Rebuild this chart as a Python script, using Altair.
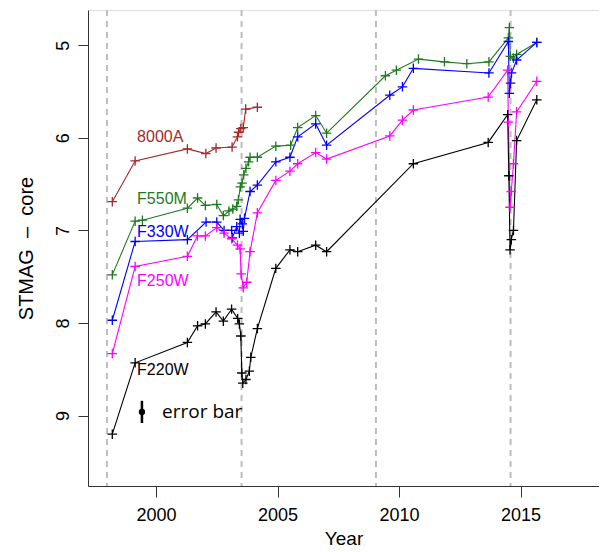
import altair as alt
import pandas as pd

# ---- data ----
yr_8000A = [1998.2, 1999.14, 2001.29, 2002.05, 2002.47, 2003.13, 2003.35, 2003.40, 2003.49, 2003.59, 2003.69, 2004.17]
mg_8000A = [6.69, 6.25, 6.12, 6.17, 6.11, 6.10, 5.99, 5.94, 5.90, 5.89, 5.69, 5.67]

yr_F550M = [1998.2, 1999.14, 1999.44, 2001.29, 2001.71, 2002.03, 2002.50, 2002.77, 2003.00, 2003.16,
            2003.32, 2003.39, 2003.47, 2003.54, 2003.61, 2003.70, 2003.81, 2003.87, 2004.17, 2004.93,
            2005.54, 2005.83, 2006.57, 2007.02, 2009.44, 2009.89, 2010.80, 2011.87, 2012.79, 2013.70,
            2014.50, 2014.54, 2014.58, 2014.71, 2014.84, 2015.67]
mg_F550M = [7.48, 6.90, 6.89, 6.76, 6.65, 6.73, 6.72, 6.84, 6.79, 6.77,
            6.74, 6.67, 6.53, 6.49, 6.40, 6.33, 6.26, 6.21, 6.21, 6.09,
            6.08, 5.89, 5.76, 5.95, 5.33, 5.27, 5.15, 5.18, 5.20, 5.18,
            4.92, 4.81, 5.12, 5.14, 5.10, 4.97]

yr_F330W = [1998.2, 1999.14, 2001.29, 2002.06, 2002.50, 2002.80, 2003.11, 2003.14, 2003.32, 2003.43,
            2003.46, 2003.55, 2003.59, 2003.64, 2003.87, 2004.17, 2004.93, 2005.51, 2005.83, 2006.57,
            2007.02, 2009.62, 2010.14, 2010.59, 2013.70, 2014.50, 2014.54, 2014.59, 2014.63, 2014.84,
            2015.67]
mg_F330W = [7.97, 7.12, 7.10, 6.91, 6.91, 7.00, 7.00, 7.08, 6.96, 7.03,
            6.88, 6.93, 7.01, 6.87, 6.58, 6.51, 6.26, 6.21, 5.99, 5.85,
            6.08, 5.54, 5.45, 5.25, 5.30, 4.96, 5.52, 5.41, 5.30, 5.16,
            4.97]

yr_F250W = [1998.2, 1999.14, 2001.29, 2001.70, 2002.03, 2002.50, 2002.80, 2003.11, 2003.35, 2003.46,
            2003.50, 2003.59, 2003.73, 2003.87, 2004.17, 2004.93, 2005.51, 2005.83, 2006.57, 2007.02,
            2009.62, 2010.14, 2010.59, 2013.67, 2014.47, 2014.50, 2014.57, 2014.62, 2014.71, 2014.84,
            2015.67]
mg_F250W = [8.33, 7.39, 7.28, 7.06, 7.06, 6.97, 7.03, 7.09, 7.16, 7.20,
            7.47, 7.62, 7.56, 7.23, 6.81, 6.46, 6.36, 6.28, 6.16, 6.23,
            5.98, 5.81, 5.70, 5.56, 5.27, 5.83, 6.75, 6.58, 6.28, 5.72,
            5.39]

yr_F220W = [1998.2, 1999.14, 2001.29, 2001.71, 2002.03, 2002.47, 2002.77, 2003.11, 2003.36, 2003.43,
            2003.49, 2003.53, 2003.57, 2003.70, 2003.84, 2003.90, 2004.17, 2004.93, 2005.51, 2005.83,
            2006.57, 2007.02, 2010.59, 2013.67, 2014.47, 2014.52, 2014.57, 2014.62, 2014.71, 2014.84,
            2015.67]
mg_F220W = [9.20, 8.43, 8.21, 8.03, 8.01, 7.88, 7.98, 7.85, 7.95, 8.01,
            8.14, 8.54, 8.65, 8.61, 8.52, 8.37, 8.06, 7.41, 7.21, 7.23,
            7.16, 7.23, 6.28, 6.05, 5.75, 6.41, 7.21, 7.10, 7.00, 6.03,
            5.59]

series_names = ["8000A", "F550M", "F330W", "F250W", "F220W"]
series_colors = ["#a52a2a", "#1f7a1f", "#0000ff", "#ff00ff", "#000000"]

label_x = [1999.22, 1999.22, 1999.22, 1999.22, 1999.22]
label_y = [5.99, 6.66, 7.02, 7.55, 8.51]

vlines = [1997.98, 2003.52, 2009.05, 2014.59]

errbar_x = [1999.42]
errbar_lo = [8.84]
errbar_hi = [9.08]
errbar_mid = [8.96]
errbar_text = ["error bar"]
errbar_text_x = [2000.25]

x_ticks = [2000, 2005, 2010, 2015]
y_ticks = [5, 6, 7, 8, 9]

# ---- tables ----
rows = []
for name, yrs, mgs in [("8000A", yr_8000A, mg_8000A), ("F550M", yr_F550M, mg_F550M),
                       ("F330W", yr_F330W, mg_F330W), ("F250W", yr_F250W, mg_F250W),
                       ("F220W", yr_F220W, mg_F220W)]:
    for i, (a, b) in enumerate(zip(yrs, mgs)):
        rows.append({"series": name, "year": a, "mag": b, "idx": i})
df = pd.DataFrame(rows)
labels = pd.DataFrame({"series": series_names, "x": label_x, "y": label_y})
vdf = pd.DataFrame({"x": vlines})
edf = pd.DataFrame({"x": errbar_x, "lo": errbar_lo, "hi": errbar_hi, "mid": errbar_mid,
                    "t": errbar_text, "tx": errbar_text_x})

xs = alt.Scale(domain=[1997.2, 2018.23], nice=False, zero=False)
ys = alt.Scale(domain=[4.62, 9.76], nice=False, zero=False, reverse=True)
cs = alt.Scale(domain=series_names, range=series_colors)

xaxis = alt.Axis(values=x_ticks, format="d", title="Year", grid=False, tickSize=11,
                 labelFontSize=18, titleFontSize=19, labelPadding=9, titlePadding=5,
                 titleFontWeight="normal", labelColor="#000", titleColor="#000",
                 domainColor="#333", tickColor="#333", labelFont="Liberation Sans",
                 titleFont="Liberation Sans", labelFlush=False)
yaxis = alt.Axis(values=y_ticks, format="d",
                 title="STMAG\u00a0\u00a0\u2013\u00a0\u00a0core", grid=False, tickSize=10,
                 labelAngle=270, labelFontSize=18, titleFontSize=20, labelPadding=6,
                 titlePadding=18, titleFontWeight="normal", labelColor="#000", titleColor="#000",
                 domainColor="#333", tickColor="#333", labelFont="Liberation Sans",
                 titleFont="Liberation Sans", labelFlush=False)

base = alt.Chart(df)

vl = alt.Chart(vdf).mark_rule(color="#bdbdbd", strokeWidth=2, strokeDash=[6, 5]).encode(
    x=alt.X("x:Q", scale=xs, axis=xaxis)
)

lines = base.mark_line(strokeWidth=1.1, clip=True).encode(
    x=alt.X("year:Q", scale=xs, axis=xaxis),
    y=alt.Y("mag:Q", scale=ys, axis=yaxis),
    color=alt.Color("series:N", scale=cs, legend=None),
    detail="series:N",
    order="idx:Q",
)

pts = base.mark_point(shape="M-1,0L1,0M0,-1L0,1", size=90, strokeWidth=1.3, filled=False,
                      opacity=1, clip=True).encode(
    x=alt.X("year:Q", scale=xs),
    y=alt.Y("mag:Q", scale=ys),
    color=alt.Color("series:N", scale=cs, legend=None),
)

txt = alt.Chart(labels).mark_text(align="left", baseline="middle", fontSize=16,
                                  font="Liberation Sans").encode(
    x=alt.X("x:Q", scale=xs),
    y=alt.Y("y:Q", scale=ys),
    text="series:N",
    color=alt.Color("series:N", scale=cs, legend=None),
)

eb = alt.Chart(edf).mark_rule(color="#000", strokeWidth=2.5).encode(
    x=alt.X("x:Q", scale=xs), y=alt.Y("lo:Q", scale=ys), y2="hi:Q"
)
ebp = alt.Chart(edf).mark_point(filled=True, color="#000", size=40, opacity=1).encode(
    x=alt.X("x:Q", scale=xs), y=alt.Y("mid:Q", scale=ys)
)
ebt = alt.Chart(edf).mark_text(align="left", baseline="middle", fontSize=19,
                               font="Open Sans", color="#000").encode(
    x=alt.X("tx:Q", scale=xs), y=alt.Y("mid:Q", scale=ys), text="t:N"
)

chart = alt.layer(vl, lines, pts, txt, eb, ebp, ebt).properties(
    width=511, height=476,
    autosize=alt.AutoSizeParams(type="none"),
    padding={"left": 80, "top": 2, "right": 0, "bottom": 64},
).configure_view(stroke="#444", strokeWidth=1.5).configure(background="white")

chart.save("out.html", embed_options={"renderer": "svg", "actions": False})
